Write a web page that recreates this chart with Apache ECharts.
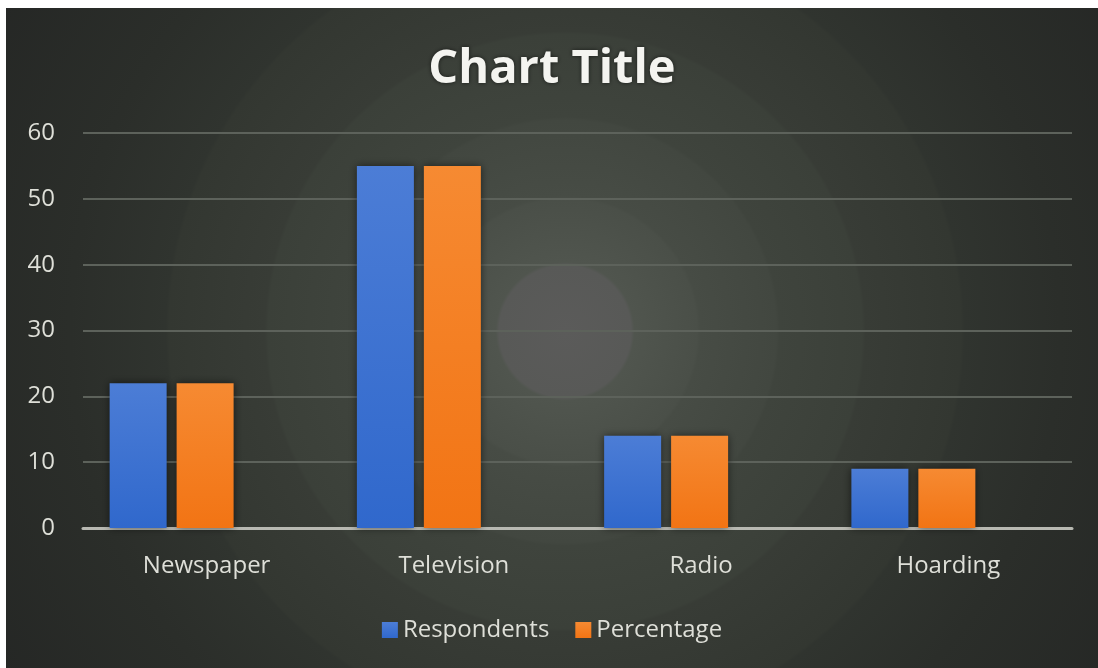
<!DOCTYPE html>
<html>
<head>
<meta charset="utf-8">
<script src="https://cdn.jsdelivr.net/npm/echarts@6/dist/echarts.min.js"></script>
<style>
  html, body { margin: 0; padding: 0; background: #ffffff; width: 1098px; height: 668px; overflow: hidden; }
  #chart { position: absolute; left: 6px; top: 8px; width: 1092px; height: 660px; }
</style>
</head>
<body>
<div id="chart"></div>
<script>
// Media reach survey
const categories = ['Newspaper', 'Television', 'Radio', 'Hoarding'];
const respondents = [22, 55, 14, 9];
const percentage = [22, 55, 14, 9];
const seriesNames = ['Respondents', 'Percentage'];
const yTicks = { min: 0, max: 60, interval: 10 };

const font = '"Open Sans", Lato, sans-serif';
const textColor = '#dedfd8';

const chart = echarts.init(document.getElementById('chart'), null, { renderer: 'canvas' });

// soft concentric rings behind the plot
const bg = {
  type: 'radial', x: 0.512, y: 0.49, r: 1.0,
  colorStops: [
    { offset: 0.00, color: '#5b5b5a' },
    { offset: 0.10, color: '#585957' },
    { offset: 0.105, color: '#50554e' },
    { offset: 0.20, color: '#4a4f48' },
    { offset: 0.205, color: '#474c45' },
    { offset: 0.32, color: '#424740' },
    { offset: 0.325, color: '#3f443d' },
    { offset: 0.45, color: '#3b4039' },
    { offset: 0.455, color: '#383c36' },
    { offset: 0.60, color: '#333731' },
    { offset: 0.605, color: '#30342f' },
    { offset: 0.75, color: '#2b2e2a' },
    { offset: 1.00, color: '#252725' }
  ]
};

const barShadow = { shadowColor: 'rgba(0,0,0,0.55)', shadowBlur: 8 };

chart.setOption({
  backgroundColor: bg,
  animation: false,
  title: {
    text: 'Chart Title',
    left: 'center',
    top: 33,
    textStyle: { color: '#f4f4f0', fontFamily: font, fontWeight: 'bold', fontSize: 47,
      textShadowColor: 'rgba(0,0,0,0.6)', textShadowBlur: 4 }
  },
  legend: {
    data: seriesNames,
    bottom: 21,
    left: 'center',
    itemWidth: 16,
    itemHeight: 16,
    itemGap: 26,
    icon: 'rect',
    textStyle: { color: textColor, fontFamily: font, fontSize: 24 }
  },
  grid: [
    { left: 77, width: 989, top: 125, height: 395 },
    { left: 42, width: 989, top: 125, height: 395 }
  ],
  xAxis: [
    {
      type: 'category', gridIndex: 0, data: categories,
      axisLine: { lineStyle: { color: '#b8b9b2', width: 3 } },
      axisTick: { show: false },
      axisLabel: { color: textColor, fontFamily: font, fontSize: 24, margin: 26 }
    },
    {
      type: 'category', gridIndex: 1, data: categories, show: false
    }
  ],
  yAxis: [
    {
      type: 'value', gridIndex: 0, min: yTicks.min, max: yTicks.max, interval: yTicks.interval,
      axisLine: { show: false }, axisTick: { show: false },
      axisLabel: { color: textColor, fontFamily: font, fontSize: 24, margin: 28 },
      splitLine: { lineStyle: { color: '#5d625b', width: 2 } }
    },
    {
      type: 'value', gridIndex: 1, min: yTicks.min, max: yTicks.max, interval: yTicks.interval, show: false,
      splitLine: { show: false }
    }
  ],
  series: [
    {
      name: seriesNames[0], type: 'bar', xAxisIndex: 1, yAxisIndex: 1,
      data: respondents, barWidth: 57, barGap: '17.5%',
      itemStyle: Object.assign({
        color: { type: 'linear', x: 0, y: 0, x2: 0, y2: 1,
          colorStops: [{ offset: 0, color: '#4c7dd6' }, { offset: 1, color: '#3068cc' }] }
      }, barShadow)
    },
    {
      name: seriesNames[1], type: 'bar', xAxisIndex: 1, yAxisIndex: 1,
      data: percentage, barWidth: 57, barGap: '17.5%',
      itemStyle: Object.assign({
        color: { type: 'linear', x: 0, y: 0, x2: 0, y2: 1,
          colorStops: [{ offset: 0, color: '#f68a32' }, { offset: 1, color: '#f27414' }] }
      }, barShadow)
    }
  ]
});
</script>
</body>
</html>
